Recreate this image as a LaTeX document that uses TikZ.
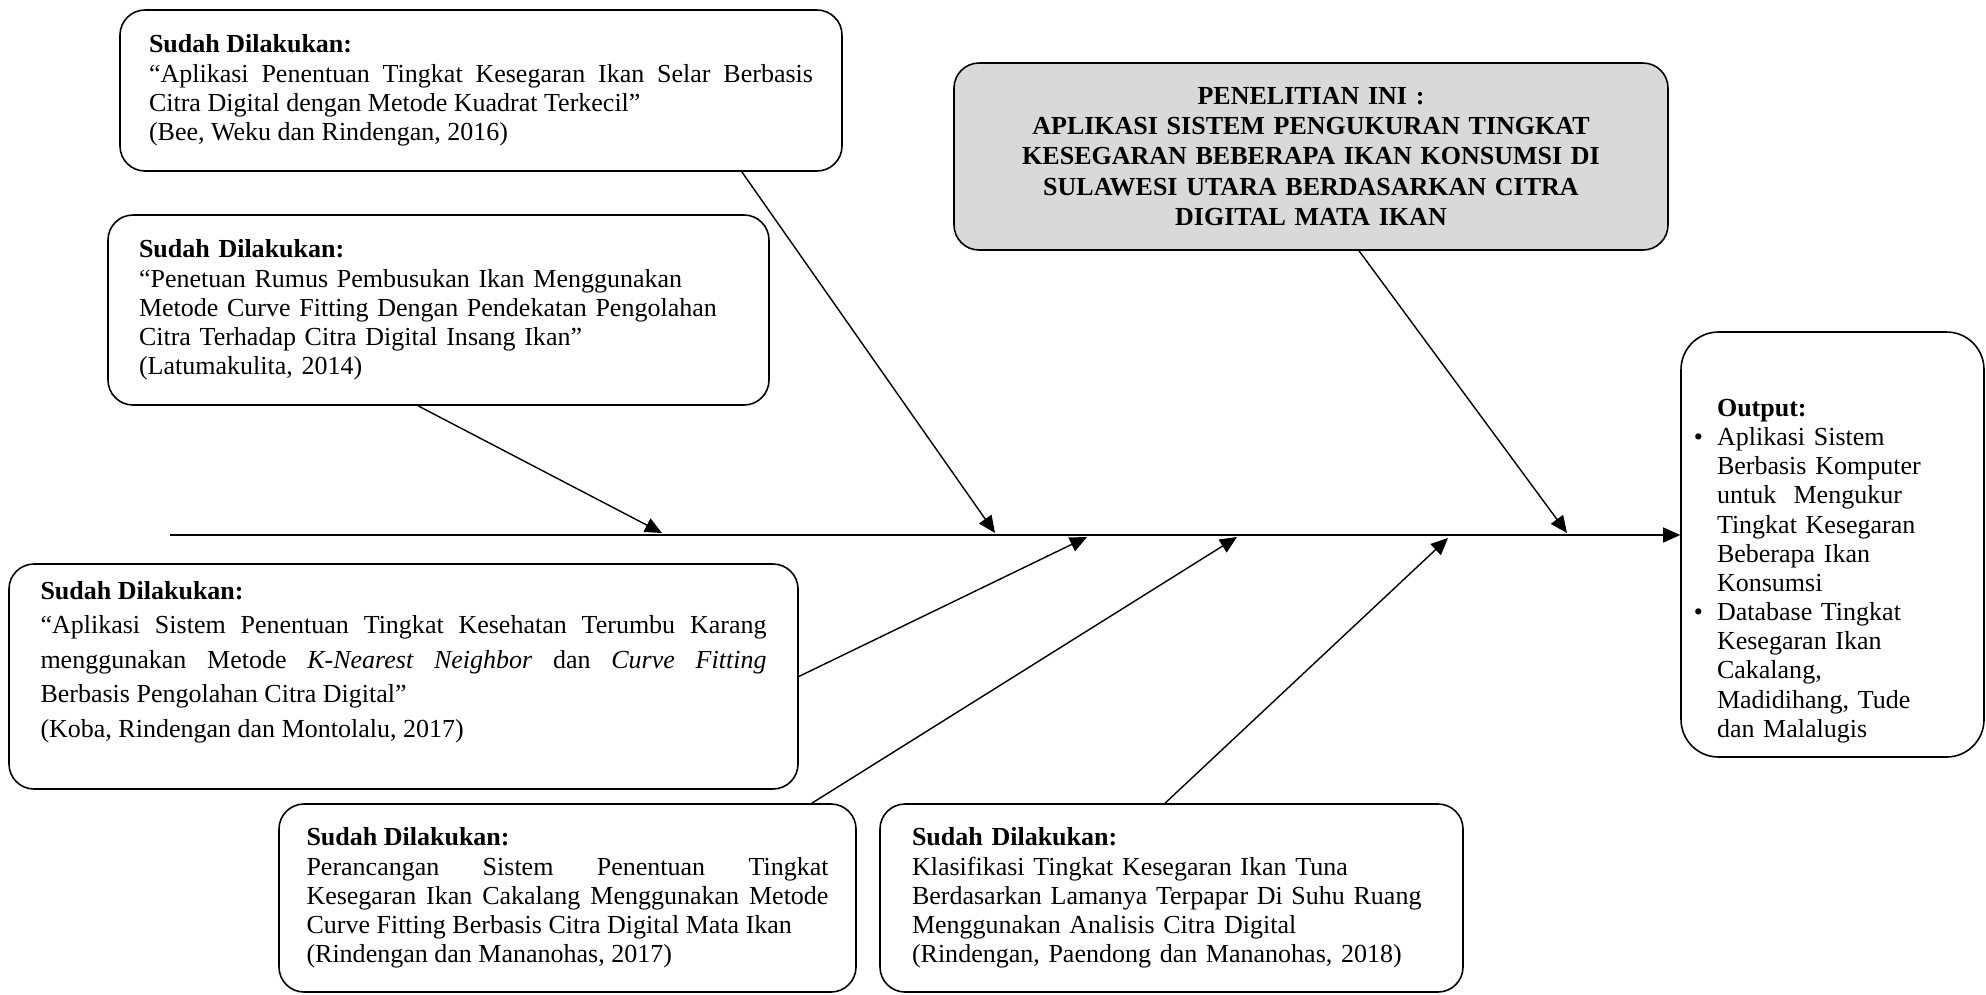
\documentclass[tikz,border=0pt]{standalone}
\usepackage{fontspec}
\setmainfont{Liberation Serif}
\usepackage{xcolor}
\usepackage{tikz}
\usetikzlibrary{arrows.meta,positioning,calc}
\definecolor{mainGray}{HTML}{D9D9D9}
\newcommand{\sudah}{\textbf{Sudah Dilakukan:}}
\newcommand{\bul}{\leavevmode\llap{\textbullet\hspace{0.28cm}}}

\begin{document}
\begin{tikzpicture}[font=\fontsize{14.8}{16.6}\selectfont,>={Triangle[length=0.34cm,width=0.3cm]},
  box/.style={draw,line width=0.9pt,rounded corners=0.5cm,inner ysep=0pt},
  link/.style={->,line width=0.8pt}]
\useasboundingbox (0,0) rectangle (39.72,-19.88);
% earlier studies above the spine
\node[box,align=justify,inner xsep=0.58cm,text width=13.28cm,minimum height=3.22cm] (bee) at (9.62,-1.81)
  {\sudah\\ “Aplikasi Penentuan Tingkat Kesegaran Ikan Selar Berbasis\linebreak Citra Digital dengan Metode Kuadrat Terkecil”\\ (Bee, Weku dan Rindengan, 2016)};
\node[box,align=left,inner xsep=0.62cm,text width=11.98cm,minimum height=3.8cm] (latu) at (8.77,-6.2)
  {\sudah\\ “Penetuan Rumus Pembusukan Ikan Menggunakan\\ Metode Curve Fitting Dengan Pendekatan Pengolahan\\ Citra Terhadap Citra Digital Insang Ikan”\\ (Latumakulita, 2014)};
% this study
\node[box,fill=mainGray,align=center,inner xsep=0.5cm,text width=13.28cm,minimum height=3.74cm,
  font=\fontsize{14.8}{17.2}\selectfont\bfseries] (main) at (26.22,-3.13)
  {PENELITIAN INI :\\ APLIKASI SISTEM PENGUKURAN TINGKAT\\ KESEGARAN BEBERAPA IKAN KONSUMSI DI\\ SULAWESI UTARA BERDASARKAN CITRA\\ DIGITAL MATA IKAN};
% earlier studies below the spine
\node[box,align=justify,inner xsep=0.63cm,text width=14.52cm,minimum height=4.5cm,
  font=\fontsize{14.8}{19.6}\selectfont] (koba) at (8.07,-13.53)
  {\sudah\\ “Aplikasi Sistem Penentuan Tingkat Kesehatan Terumbu Karang\linebreak menggunakan Metode \textit{K-Nearest Neighbor} dan \textit{Curve Fitting}\linebreak Berbasis Pengolahan Citra Digital”\\ (Koba, Rindengan dan Montolalu, 2017)\\ \mbox{}};
\node[box,align=justify,inner xsep=0.55cm,text width=10.44cm,minimum height=3.76cm] (rind17) at (11.35,-17.96)
  {\sudah\\ Perancangan Sistem Penentuan Tingkat\linebreak Kesegaran Ikan Cakalang Menggunakan Metode\linebreak Curve Fitting Berbasis Citra Digital Mata Ikan\\ (Rindengan dan Mananohas, 2017)};
\node[box,align=left,inner xsep=0.64cm,text width=10.38cm,minimum height=3.76cm] (rind18) at (23.43,-17.96)
  {\sudah\\ Klasifikasi Tingkat Kesegaran Ikan Tuna\\ Berdasarkan Lamanya Terpapar Di Suhu Ruang\\ Menggunakan Analisis Citra Digital\\ (Rindengan, Paendong dan Mananohas, 2018)};
% output
\node[box,rounded corners=0.75cm,align=left,inner xsep=0.72cm,text width=4.62cm,minimum height=8.5cm] (out) at (36.65,-10.89)
  {\mbox{}\\[0.82cm] \textbf{Output:}\\
   \bul Aplikasi Sistem\\ Berbasis Komputer\\ untuk\ \ Mengukur\\ Tingkat Kesegaran\\ Beberapa Ikan\\ Konsumsi\\
   \bul Database Tingkat\\ Kesegaran Ikan\\ Cakalang,\\ Madidihang, Tude\\ dan Malalugis};
% spine and where the arrows meet it
\coordinate (tail) at (3.4,-10.7);
\coordinate (hLatu) at (13.24,-10.66);
\coordinate (hBee) at (19.9,-10.66);
\coordinate (hMain) at (31.34,-10.66);
\coordinate (hKoba) at (21.74,-10.74);
\coordinate (hRind17) at (24.74,-10.74);
\coordinate (hRind18) at (28.96,-10.76);
\draw[link] (tail) -- (tail -| out.west);
\draw[link] ([xshift=-0.41cm]latu.south) -- (hLatu);
\draw[link] ([xshift=-2.02cm]bee.south east) -- (hBee);
\draw[link] ([xshift=0.96cm]main.south) -- (hMain);
\draw[link] (koba.east) -- (hKoba);
\draw[link] ([xshift=-0.9cm]rind17.north east) -- (hRind17);
\draw[link] ([xshift=-0.13cm]rind18.north) -- (hRind18);
\end{tikzpicture}
\end{document}
